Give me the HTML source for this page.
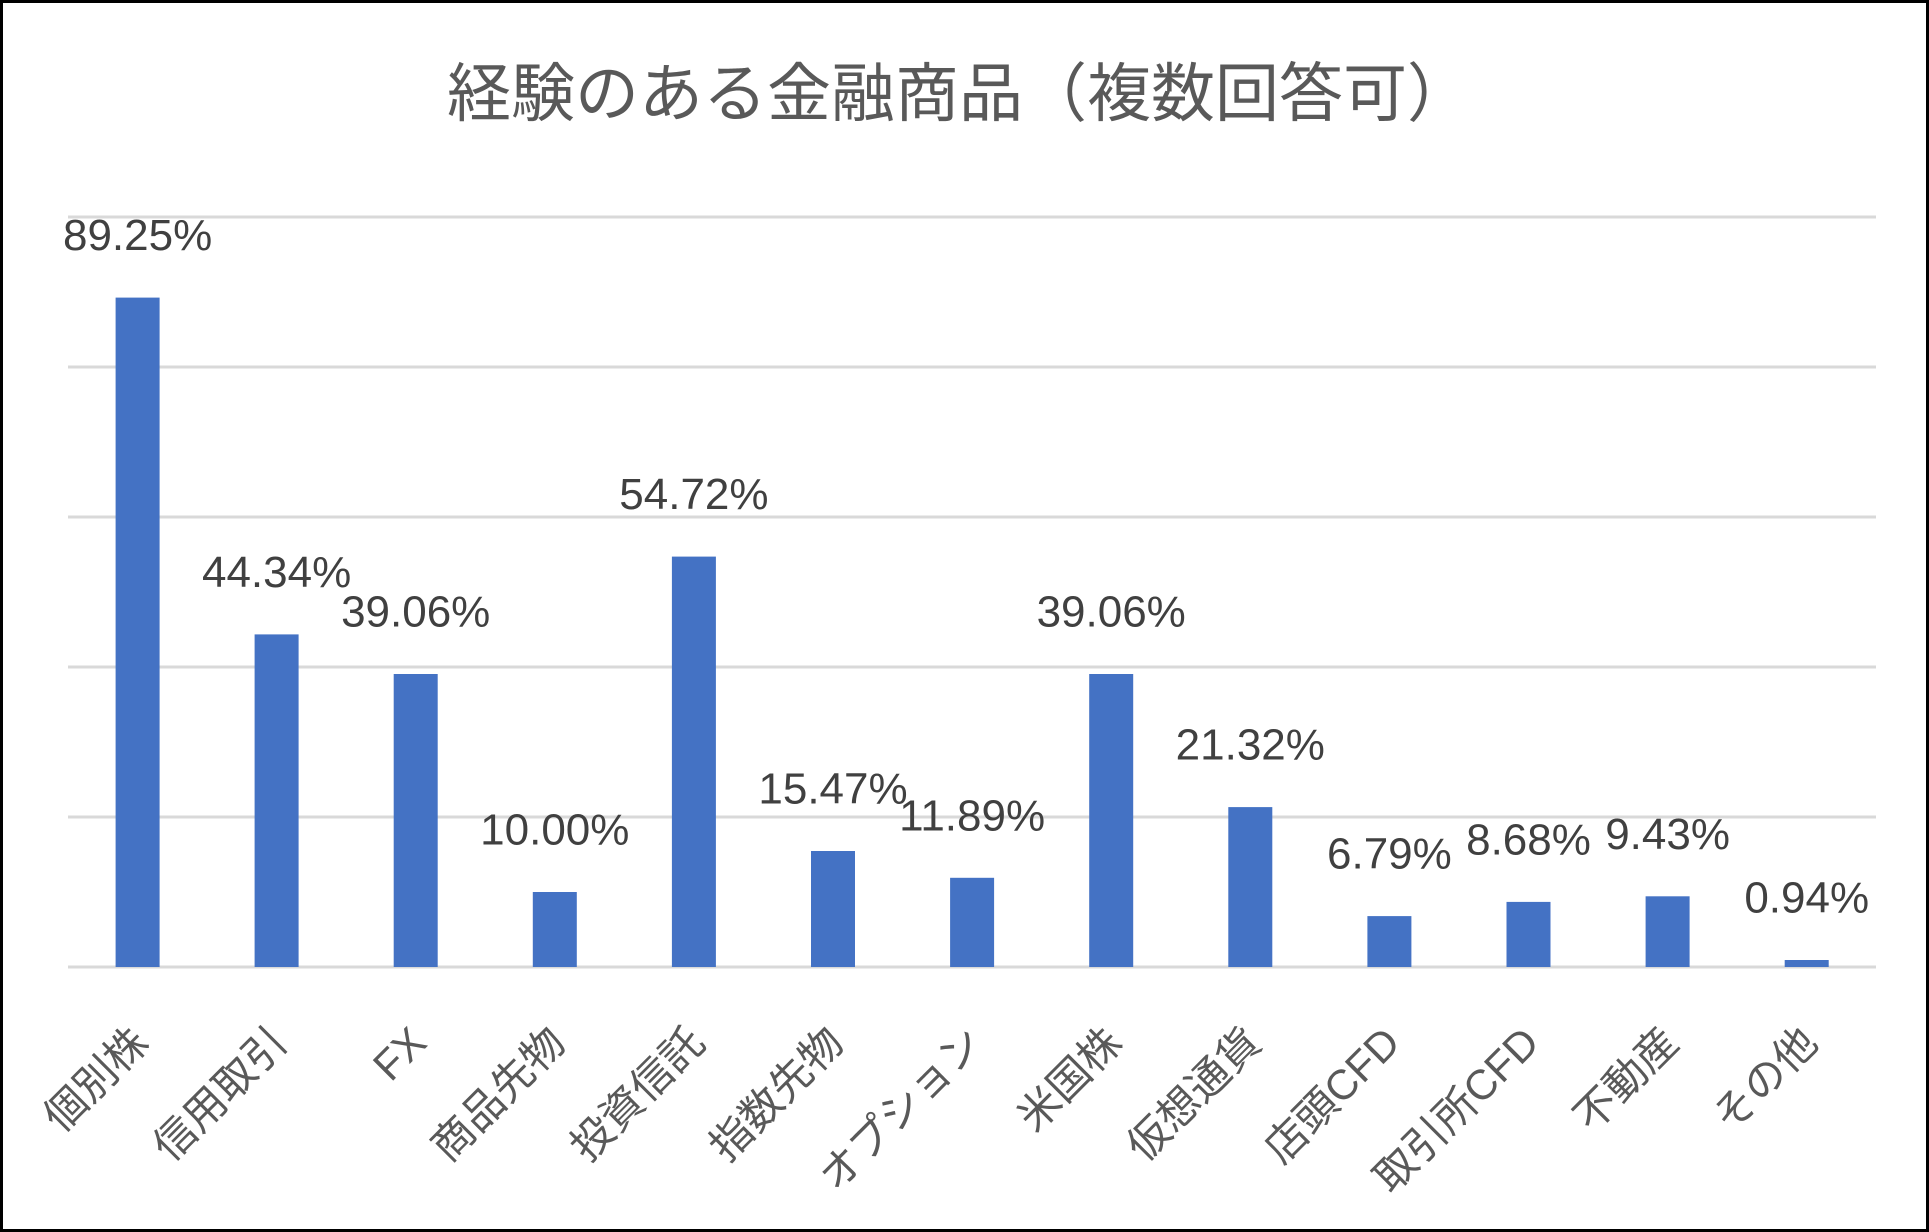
<!DOCTYPE html>
<html><head><meta charset="utf-8"><style>
html,body{margin:0;padding:0;background:#fff;}
svg{display:block;}
</style></head><body>
<svg width="1929" height="1232" viewBox="0 0 1929 1232" xmlns="http://www.w3.org/2000/svg" font-family="'Liberation Sans','Noto Sans CJK JP',sans-serif">
<rect x="1.5" y="1.5" width="1926" height="1229" fill="#fff" stroke="#000" stroke-width="3"/>
<text x="959" y="116" font-size="64" fill="#595959" text-anchor="middle">経験のある金融商品（複数回答可）</text>
<g stroke="#d9d9d9" stroke-width="3">
<line x1="68" x2="1876" y1="217" y2="217"/>
<line x1="68" x2="1876" y1="367" y2="367"/>
<line x1="68" x2="1876" y1="517" y2="517"/>
<line x1="68" x2="1876" y1="667" y2="667"/>
<line x1="68" x2="1876" y1="817" y2="817"/>
<line x1="68" x2="1876" y1="967" y2="967"/>
</g>
<g fill="#4472c4">
<rect x="115.6" y="297.6" width="44" height="669.4"/>
<rect x="254.6" y="634.4" width="44" height="332.6"/>
<rect x="393.7" y="674.0" width="44" height="293"/>
<rect x="532.8" y="892.0" width="44" height="75"/>
<rect x="671.9" y="556.6" width="44" height="410.4"/>
<rect x="811.0" y="851.0" width="44" height="116"/>
<rect x="950.1" y="877.8" width="44" height="89.2"/>
<rect x="1089.2" y="674.0" width="44" height="293"/>
<rect x="1228.3" y="807.1" width="44" height="159.9"/>
<rect x="1367.4" y="916.1" width="44" height="50.9"/>
<rect x="1506.5" y="901.9" width="44" height="65.1"/>
<rect x="1645.6" y="896.3" width="44" height="70.7"/>
<rect x="1784.7" y="960.0" width="44" height="7"/>
</g>
<g fill="#404040" font-size="44" text-anchor="middle">
<text x="137.6" y="250">89.25%</text>
<text x="276.6" y="587">44.34%</text>
<text x="415.7" y="626.5">39.06%</text>
<text x="554.8" y="844.5">10.00%</text>
<text x="693.9" y="509">54.72%</text>
<text x="833.0" y="803.5">15.47%</text>
<text x="972.1" y="830.3">11.89%</text>
<text x="1111.2" y="626.5">39.06%</text>
<text x="1250.3" y="759.6">21.32%</text>
<text x="1389.4" y="868.6">6.79%</text>
<text x="1528.5" y="854.4">8.68%</text>
<text x="1667.6" y="848.8">9.43%</text>
<text x="1806.7" y="912.5">0.94%</text>
</g>
<g fill="#595959" font-size="42" text-anchor="end">
<text transform="translate(150.6,1045) rotate(-45)">個別株</text>
<text transform="translate(289.6,1045) rotate(-45)">信用取引</text>
<text transform="translate(428.7,1045) rotate(-45)">FX</text>
<text transform="translate(567.8,1045) rotate(-45)">商品先物</text>
<text transform="translate(706.9,1045) rotate(-45)">投資信託</text>
<text transform="translate(846.0,1045) rotate(-45)">指数先物</text>
<text transform="translate(985.1,1045) rotate(-45)">オプション</text>
<text transform="translate(1124.2,1045) rotate(-45)">米国株</text>
<text transform="translate(1263.3,1045) rotate(-45)">仮想通貨</text>
<text transform="translate(1402.4,1045) rotate(-45)">店頭CFD</text>
<text transform="translate(1541.5,1045) rotate(-45)">取引所CFD</text>
<text transform="translate(1680.6,1045) rotate(-45)">不動産</text>
<text transform="translate(1819.7,1045) rotate(-45)">その他</text>
</g>
</svg>
</body></html>
